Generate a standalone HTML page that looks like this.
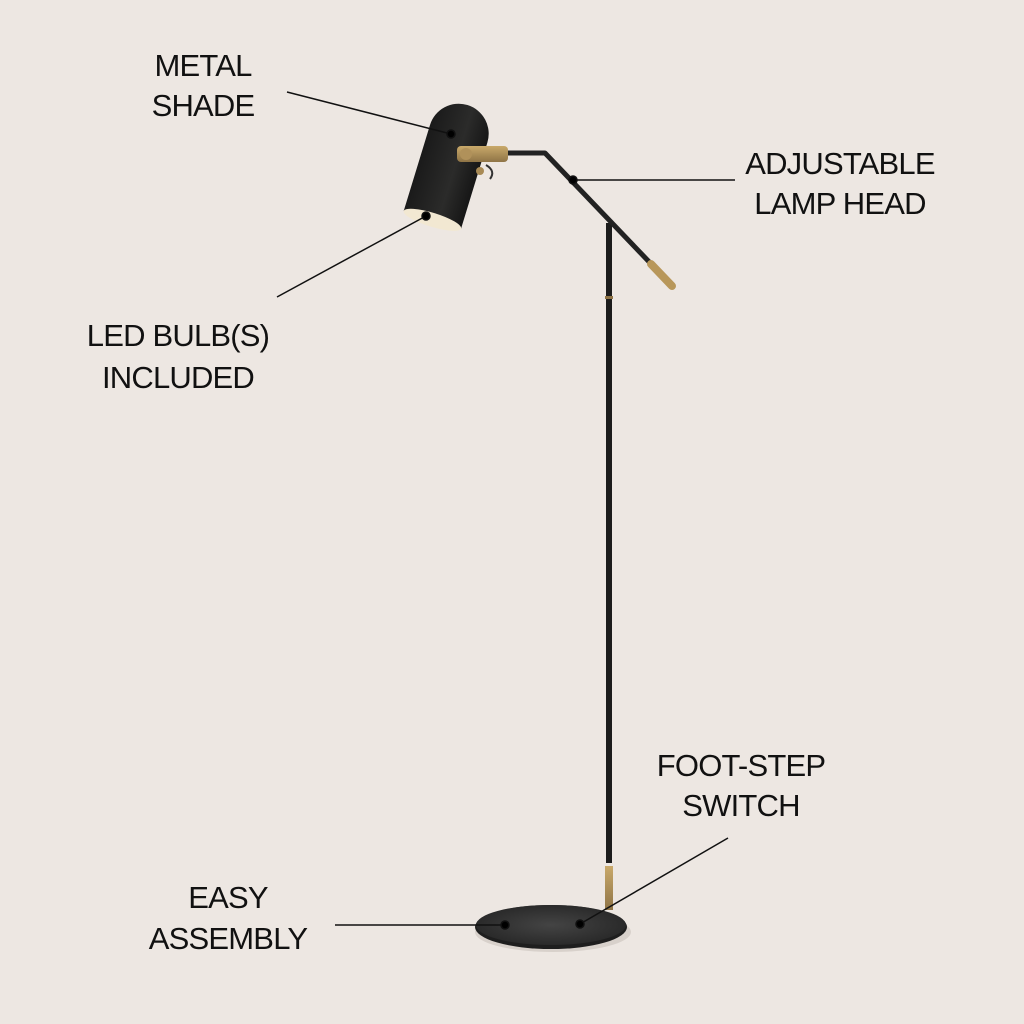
<!DOCTYPE html>
<html><head><style>html,body{margin:0;padding:0;background:#ede7e2}svg{display:block}</style></head>
<body>
<svg width="1024" height="1024" viewBox="0 0 1024 1024" xmlns="http://www.w3.org/2000/svg">
<rect width="1024" height="1024" fill="#ede7e2"/>
<defs>
<linearGradient id="sh" x1="0" x2="1" y1="0" y2="0"><stop offset="0" stop-color="#1a1a1a"/><stop offset="0.6" stop-color="#2b2b2a"/><stop offset="1" stop-color="#161616"/></linearGradient>
<linearGradient id="br" x1="0" x2="0" y1="0" y2="1"><stop offset="0" stop-color="#c9a96a"/><stop offset="1" stop-color="#8f7446"/></linearGradient>
<radialGradient id="bs" cx="0.5" cy="0.5" r="0.5"><stop offset="0" stop-color="#444"/><stop offset="1" stop-color="#2a2a2a"/></radialGradient>
</defs>
<ellipse cx="553" cy="932" rx="78" ry="20" fill="#d8d1cb"/>
<ellipse cx="551" cy="927" rx="76" ry="22" fill="#1e1e1e"/>
<ellipse cx="551" cy="925" rx="75" ry="20" fill="url(#bs)"/>
<rect x="606" y="223" width="6" height="640" fill="#1c1c1c"/>
<rect x="605" y="296" width="8" height="3" fill="#8f7446"/>
<rect x="605" y="866" width="8" height="44" fill="url(#br)"/>
<polyline points="507,153 545,153 655,268" fill="none" stroke="#222" stroke-width="5" stroke-linejoin="round"/>
<line x1="651" y1="264" x2="672" y2="286" stroke="#b8975a" stroke-width="8" stroke-linecap="round"/>
<g transform="rotate(17 447 172)">
<path d="M417,222 L417,132 A30,30 0 0 1 477,132 L477,222 Z" fill="url(#sh)"/>
<ellipse cx="447" cy="222" rx="30" ry="7" fill="#f2e8d2"/>
</g>
<rect x="457" y="146" width="51" height="16" rx="4" fill="url(#br)"/>
<circle cx="466" cy="154" r="6" fill="#b0915a"/>
<path d="M486,165 q10,6 4,14" fill="none" stroke="#333" stroke-width="2"/>
<circle cx="480" cy="171" r="4" fill="#a88a55"/>
<g stroke="#111" stroke-width="1.5" fill="#000">
<line x1="287" y1="92" x2="451" y2="134"/><circle cx="451" cy="134" r="4"/>
<line x1="573" y1="180" x2="735" y2="180"/><circle cx="573" cy="180" r="4"/>
<line x1="277" y1="297" x2="426" y2="216"/><circle cx="426" cy="216" r="4"/>
<line x1="580" y1="924" x2="728" y2="838"/><circle cx="580" cy="924" r="4"/>
<line x1="335" y1="925" x2="505" y2="925"/><circle cx="505" cy="925" r="4"/>
</g>
<g font-family="Liberation Sans, sans-serif" font-size="31" fill="#111" text-anchor="middle" letter-spacing="-0.8">
<text x="203" y="76">METAL</text>
<text x="203" y="116">SHADE</text>
<text x="840" y="174">ADJUSTABLE</text>
<text x="840" y="214">LAMP HEAD</text>
<text x="178" y="346">LED BULB(S)</text>
<text x="178" y="388">INCLUDED</text>
<text x="741" y="776">FOOT-STEP</text>
<text x="741" y="816">SWITCH</text>
<text x="228" y="908">EASY</text>
<text x="228" y="949">ASSEMBLY</text>
</g>
</svg>
</body></html>
